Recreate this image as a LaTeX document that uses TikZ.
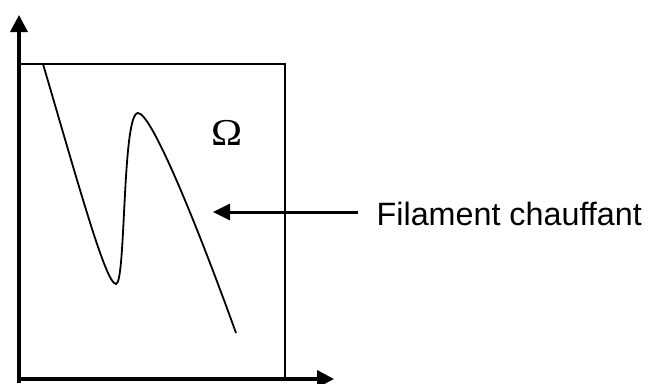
\documentclass[tikz,border=0pt]{standalone}
\usepackage{fontspec}
\setmainfont{Liberation Serif}
\newfontfamily\arialfont{Liberation Sans}
\usetikzlibrary{arrows.meta}
\begin{document}
\begin{tikzpicture}[x=1pt,y=-1pt,
  axis/.style={line width=3.5pt,-{Triangle[width=17pt,length=17pt]}},
  frame/.style={line width=1.8pt},
  filament/.style={line width=1.8pt},
  callout/.style={line width=3pt,-{Triangle[width=16pt,length=17pt]}}]
\useasboundingbox (0,0) rectangle (648,383);
\fill[white] (0,0) rectangle (648,383);
% frame
\draw[frame] (19,379) -- (19,64) -- (285,64) -- (285,379);
% axes
\draw[axis] (19,383) -- (19,15);
\draw[axis] (17,379) -- (334,379);
% filament
\draw[filament] (43,64) .. controls (80,190) and (106,284) .. (116,284)
  .. controls (126,284) and (122,113) .. (138,113)
  .. controls (152,113) and (200,233) .. (236,333);
% Omega
\node[font=\fontsize{38}{38}\selectfont, inner sep=0pt, anchor=base, xscale=1.1] (omega) at (227.5,145) {Ω};
% label
\node[font=\arialfont\fontsize{32.3}{32.3}\selectfont, inner sep=0pt, anchor=base west] (lbl) at (376.5,225) {Filament chauffant};
\coordinate (tail) at (358,212);
\coordinate (tip) at (213,212);
\draw[callout] (tail) -- (tip);
\end{tikzpicture}
\end{document}
